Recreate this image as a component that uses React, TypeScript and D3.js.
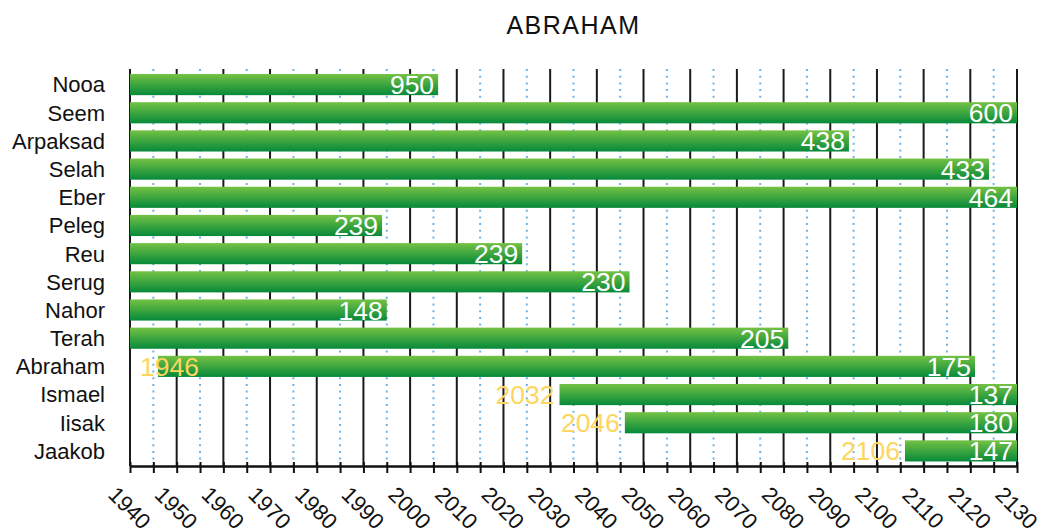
import { useEffect, useRef } from 'react';
import * as d3 from 'd3';

const names = ['Nooa', 'Seem', 'Arpaksad', 'Selah', 'Eber', 'Peleg', 'Reu', 'Serug', 'Nahor', 'Terah', 'Abraham', 'Ismael', 'Iisak', 'Jaakob'];
const births = [1056, 1556, 1656, 1691, 1721, 1755, 1785, 1817, 1847, 1876, 1946, 2032, 2046, 2106];
const lifespans = [950, 600, 438, 433, 464, 239, 239, 230, 148, 205, 175, 137, 180, 147];
const yearDomain = [1940, 2130];

const width = 1039;
const height = 530;
const font = '"Liberation Sans", Arial, Helvetica, sans-serif';

export default function App() {
  const svgRef = useRef<SVGSVGElement>(null);

  useEffect(() => {
    if (!svgRef.current) return;
    const svg = d3.select(svgRef.current);
    svg.selectAll('*').remove();

    const top = 69;
    const axisY = 466;

    const x = d3.scaleLinear().domain(yearDomain).range([130, 1017]);
    const y = d3
      .scaleBand()
      .domain(names)
      .range([70.5, 465])
      .paddingInner(0.25)
      .paddingOuter(0.125);

    const defs = svg.append('defs');
    const grad = defs
      .append('linearGradient')
      .attr('id', 'barGrad')
      .attr('x1', 0)
      .attr('y1', 0)
      .attr('x2', 0)
      .attr('y2', 1);
    grad.append('stop').attr('offset', '0%').attr('stop-color', '#74c244');
    grad.append('stop').attr('offset', '100%').attr('stop-color', '#06893a');

    // title
    svg
      .append('text')
      .attr('x', (x.range()[0] + x.range()[1]) / 2)
      .attr('y', 34)
      .attr('text-anchor', 'middle')
      .attr('font-family', font)
      .attr('font-size', 25)
      .attr('letter-spacing', 1.5)
      .attr('fill', '#111')
      .text('ABRAHAM');

    const allTicks = d3.range(yearDomain[0], yearDomain[1] + 1, 5);
    const majors = allTicks.filter((t) => t % 10 === 0);
    const minors = allTicks.filter((t) => t % 10 !== 0);

    // grid: dotted blue at 5s, solid black at 10s
    svg
      .append('g')
      .selectAll('line')
      .data(minors)
      .enter()
      .append('line')
      .attr('x1', (d) => x(d))
      .attr('x2', (d) => x(d))
      .attr('y1', top)
      .attr('y2', axisY)
      .attr('stroke', '#6db3e6')
      .attr('stroke-width', 2)
      .attr('stroke-dasharray', '2,4.7');

    svg
      .append('g')
      .selectAll('line')
      .data(majors)
      .enter()
      .append('line')
      .attr('x1', (d) => x(d))
      .attr('x2', (d) => x(d))
      .attr('y1', top)
      .attr('y2', axisY)
      .attr('stroke', '#1a1a1a')
      .attr('stroke-width', 2);

    const rows = names.map((name, i) => {
      const start = Math.max(births[i], yearDomain[0]);
      const end = Math.min(births[i] + lifespans[i], yearDomain[1]);
      return { name, birth: births[i], life: lifespans[i], start, end };
    });

    // bars
    svg
      .append('g')
      .selectAll('rect')
      .data(rows)
      .enter()
      .append('rect')
      .attr('x', (d) => x(d.start))
      .attr('y', (d) => y(d.name) || 0)
      .attr('width', (d) => x(d.end) - x(d.start))
      .attr('height', y.bandwidth())
      .attr('fill', 'url(#barGrad)');

    // lifespan labels
    svg
      .append('g')
      .selectAll('text')
      .data(rows)
      .enter()
      .append('text')
      .attr('x', (d) => x(d.end) - 4)
      .attr('y', (d) => (y(d.name) || 0) + y.bandwidth() / 2 + 9.5)
      .attr('text-anchor', 'end')
      .attr('font-family', font)
      .attr('font-size', 26.5)
      .attr('fill', '#fff')
      .text((d) => d.life);

    // birth year labels
    const yearW = 4 * 0.556 * 26.5;
    svg
      .append('g')
      .selectAll('text')
      .data(rows.filter((d) => d.birth >= yearDomain[0]))
      .enter()
      .append('text')
      .attr('x', (d) => Math.max(x(d.birth) - 5, x(yearDomain[0]) + 10 + yearW))
      .attr('y', (d) => (y(d.name) || 0) + y.bandwidth() / 2 + 9.5)
      .attr('text-anchor', 'end')
      .attr('font-family', font)
      .attr('font-size', 26.5)
      .attr('fill', '#fcd660')
      .text((d) => d.birth);

    // y labels
    svg
      .append('g')
      .selectAll('text')
      .data(names)
      .enter()
      .append('text')
      .attr('x', 105)
      .attr('y', (d) => (y(d) || 0) + y.bandwidth() / 2 + 7.9)
      .attr('text-anchor', 'end')
      .attr('font-family', font)
      .attr('font-size', 22)
      .attr('fill', '#111')
      .text((d) => d);

    // x axis
    const axis = svg
      .append('g')
      .attr('transform', `translate(0,${axisY})`)
      .call(
        d3
          .axisBottom(x)
          .tickValues(allTicks)
          .tickSize(7)
          .tickSizeOuter(0)
          .tickFormat((d) => ((d as number) % 10 === 0 ? String(d) : ''))
      );
    axis.select('.domain').attr('stroke', '#111').attr('stroke-width', 2.5);
    axis
      .selectAll('.tick line')
      .attr('stroke', '#111')
      .attr('stroke-width', 2)
      .attr('y1', -4);
    axis
      .selectAll('.tick text')
      .attr('font-family', font)
      .attr('font-size', 22)
      .attr('fill', '#111')
      .attr('text-anchor', 'middle')
      .attr('dy', null)
      .attr('dominant-baseline', 'central')
      .attr('transform', 'translate(-1,42) rotate(45)')
      .attr('y', 0);
  }, []);

  return (
    <div style={{ position: 'absolute', left: 0, top: 0 }}>
      <svg ref={svgRef} width={width} height={height} style={{ display: 'block', background: '#fff' }} />
    </div>
  );
}
